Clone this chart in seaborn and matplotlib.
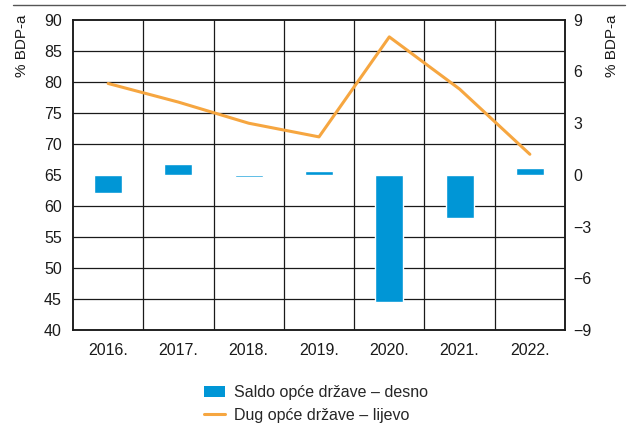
import numpy as np
import pandas as pd
import seaborn as sns
import matplotlib.pyplot as plt
from matplotlib.lines import Line2D
from matplotlib.patches import Patch

# podaci
godine = ['2016.', '2017.', '2018.', '2019.', '2020.', '2021.', '2022.']
saldo = [-1.05, 0.62, -0.12, 0.19, -7.35, -2.5, 0.37]     # desna os
dug = [79.7, 76.7, 73.3, 71.1, 87.2, 78.8, 68.3]          # lijeva os

BAR_COLOR = '#0096D6'
LINE_COLOR = '#F6A640'

sns.set_style('white')
plt.rcParams['font.family'] = ['Liberation Sans Narrow', 'Liberation Sans', 'DejaVu Sans']

df = pd.DataFrame({'godina': godine, 'saldo': saldo, 'dug': dug})
df['poz'] = range(len(df))

fig = plt.figure(figsize=(6.33, 4.25), dpi=100)
ax = fig.add_axes([0.1153, 0.2235, 0.7773, 0.7306])
ax2 = ax.twinx()

# stupci - saldo (desno)
sns.barplot(data=df, x='godina', y='saldo', ax=ax2, color=BAR_COLOR,
            width=0.4, saturation=1, zorder=3)
ax2.set_ylim(-9, 9)
ax2.set_yticks(np.arange(-9, 10, 3))
ax2.set_ylabel('')
ax2.set_xlabel('')

# mreza - horizontalne linije prate lijevu os
ax2.set_yticks(np.linspace(-9, 9, 11), minor=True)
ax2.grid(True, which='minor', axis='y', color='#1a1a1a', linewidth=0.9)
ax2.grid(False, which='major')
ax2.set_axisbelow(True)

# linija - dug (lijevo)
sns.lineplot(data=df, x='poz', y='dug', ax=ax, color=LINE_COLOR,
             linewidth=2.2, legend=False)
ax.set_ylim(40, 90)
ax.set_yticks(np.arange(40, 91, 5))
ax.set_xlim(-0.5, len(godine) - 0.5)
ax.set_xticks(range(len(godine)))
ax.set_xticklabels(godine)
ax.set_xticks(np.arange(0.5, len(godine) - 1, 1.0), minor=True)
ax.grid(False)
ax.grid(True, which='minor', axis='x', color='#1a1a1a', linewidth=0.9)
ax.set_xlabel('')
ax.set_ylabel('')
ax.set_zorder(ax2.get_zorder() + 1)
ax.patch.set_visible(False)

for a in (ax, ax2):
    a.tick_params(axis='both', which='both', length=0, labelsize=11.5,
                  colors='#1a1a1a')
    for s in a.spines.values():
        s.set_color('#1a1a1a')
        s.set_linewidth(1.1)
ax.tick_params(axis='y', pad=8)
ax.tick_params(axis='x', pad=9)
ax2.tick_params(axis='y', pad=6)

fig.text(0.034, 0.967, '% BDP-a', rotation=90, va='top', ha='center',
         fontsize=11, color='#1a1a1a')
fig.text(0.967, 0.967, '% BDP-a', rotation=90, va='top', ha='center',
         fontsize=11, color='#1a1a1a')

# gornja linija
fig.add_artist(Line2D([0.021, 0.987], [0.988, 0.988], color='#555555',
                      linewidth=1.0, transform=fig.transFigure))

handles = [Patch(facecolor=BAR_COLOR, edgecolor='none'),
           Line2D([], [], color=LINE_COLOR, linewidth=2.2)]
labels = ['Saldo opće države – desno', 'Dug opće države – lijevo']
fig.legend(handles, labels, loc='upper left', bbox_to_anchor=(0.322, 0.094),
           frameon=False, fontsize=11.5, handlelength=1.3, handletextpad=0.6,
           labelspacing=0.5, borderaxespad=0, borderpad=0)

fig.savefig('out.png', dpi=100)
